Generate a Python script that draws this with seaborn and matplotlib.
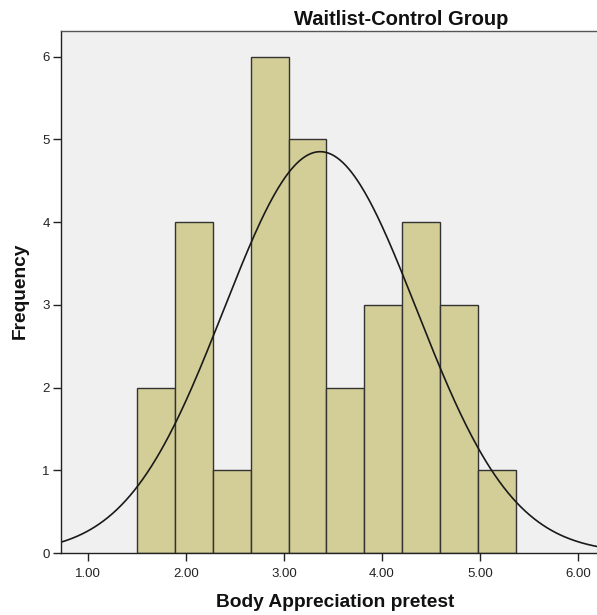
import numpy as np
import pandas as pd
import matplotlib
matplotlib.use("Agg")
import matplotlib.pyplot as plt
import seaborn as sns

# Histogram bins (bin midpoints) and their frequencies
bin_start = 1.503
bin_width = 0.386
bin_centers = [1.696, 2.082, 2.468, 2.854, 3.240, 3.626, 4.012, 4.398, 4.784, 5.170]
frequencies = [2, 4, 1, 6, 5, 2, 3, 4, 3, 1]

# Fitted normal curve parameters
mean_score = 3.37
sd_score = 0.984
n_cases = sum(frequencies)

x_ticks = [1, 2, 3, 4, 5, 6]
x_tick_labels = ["1.00", "2.00", "3.00", "4.00", "5.00", "6.00"]
y_ticks = [0, 1, 2, 3, 4, 5, 6]

sns.set_theme(style="white")
plt.rcParams["font.family"] = ["Liberation Sans", "DejaVu Sans"]

W, H = 597, 615
ax_left, ax_bottom, ax_top = 61, 553, 31
ax_w = W - ax_left + 6
ax_h = ax_bottom - ax_top

fig = plt.figure(figsize=(W / 100, H / 100), dpi=100)
ax = fig.add_axes([ax_left / W, (H - ax_bottom) / H, ax_w / W, ax_h / H])
ax.set_facecolor("#F0F0F0")

df = pd.DataFrame({"score": bin_centers, "count": frequencies})
edges = [bin_start + i * bin_width for i in range(len(bin_centers) + 1)]
sns.histplot(data=df, x="score", weights="count", bins=edges, ax=ax,
             color="#D3CE97", alpha=1.0, edgecolor="#333333", linewidth=1.0)

xs = np.linspace(0.6, 6.5, 400)
ys = n_cases * bin_width * np.exp(-0.5 * ((xs - mean_score) / sd_score) ** 2) / (sd_score * np.sqrt(2 * np.pi))
sns.lineplot(x=xs, y=ys, ax=ax, color="#1a1a1a", linewidth=1.2)

px_per_unit = 98.0
x0 = 0.725
ax.set_xlim(x0, x0 + ax_w / px_per_unit)
ax.set_ylim(0, 6.31)
ax.set_xticks(x_ticks)
ax.set_xticklabels(x_tick_labels)
ax.set_yticks(y_ticks)
ax.tick_params(axis="both", which="major", direction="out", width=1,
               color="#222222", labelsize=9.5, labelcolor="#222222",
               bottom=True, left=True)
ax.tick_params(axis="x", length=6, pad=5)
ax.tick_params(axis="y", length=6, pad=2)
for side in ["left", "top", "bottom"]:
    ax.spines[side].set_visible(True)
    ax.spines[side].set_color("#222222")
    ax.spines[side].set_linewidth(1.0)
ax.spines["top"].set_color("#555555")
ax.spines["right"].set_visible(False)

ax.set_xlabel("Body Appreciation pretest", fontsize=13.8, fontweight="bold", color="#111111")
ax.xaxis.set_label_coords((335 - ax_left) / ax_w, (ax_bottom - 607) / ax_h)
ax.xaxis.label.set_va("baseline")
ax.set_ylabel("Frequency", fontsize=13.8, fontweight="bold", color="#111111")
ax.yaxis.set_label_coords((20 - ax_left) / ax_w, (ax_bottom - 290.5) / ax_h)
ax.yaxis.label.set_va("center")

fig.text(401 / W, 1 - 25 / H, "Waitlist-Control Group", ha="center", va="baseline",
         fontsize=14.5, fontweight="bold", color="#111111")

fig.savefig("out.png", dpi=100, facecolor="white")
